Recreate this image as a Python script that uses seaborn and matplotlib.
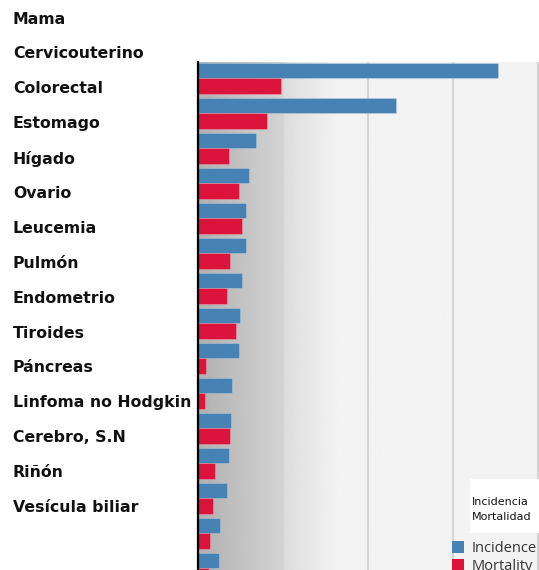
import numpy as np
import pandas as pd
import matplotlib
matplotlib.use("Agg")
import matplotlib.pyplot as plt
from matplotlib.patches import Patch, Rectangle
import seaborn as sns

# Cancer sites and estimated cases / deaths
categories = ["Mama", "Cervicouterino", "Colorectal", "Estomago", "Hígado",
              "Ovario", "Leucemia", "Pulmón", "Endometrio", "Tiroides",
              "Páncreas", "Linfoma no Hodgkin", "Cerebro, S.N", "Riñón",
              "Vesícula biliar"]
incidence = [35300, 23300, 6820, 6040, 5680, 5680, 5210, 4980, 4860, 3960,
             3850, 3650, 3380, 2590, 2470]
mortality = [9760, 8080, 3610, 4790, 5210, 3760, 3410, 4440, 980, 860,
             3760, 2000, 1800, 1450, 1300]
series_names = ["Incidence", "Mortality"]
box_labels = ["Incidencia", "Mortalidad"]

colors = {"Incidence": "#4682B4", "Mortality": "#DC143C"}

df = pd.DataFrame({
    "site": categories * 2,
    "series": [series_names[0]] * len(categories) + [series_names[1]] * len(categories),
    "value": incidence + mortality,
})

W, H = 539, 570
fig = plt.figure(figsize=(W / 100, H / 100), dpi=100)
ax = fig.add_axes([198 / W, 0, (W - 198) / W, 1 - 62 / H])

# shaded plot background: dark at the axis, fading to light grey
xs = np.linspace(0, 1, 400)
shade = np.where(xs < 0.25, 0.69 + (0.83 - 0.69) * xs / 0.25,
                 np.where(xs < 0.42, 0.865 + (0.957 - 0.865) * (xs - 0.25) / 0.17, 0.957))
ax.imshow(shade[np.newaxis, :], extent=[0, 1, 0, 1], transform=ax.transAxes,
          aspect="auto", cmap="gray", vmin=0, vmax=1, zorder=0, interpolation="bilinear")

sns.barplot(data=df, y="site", x="value", hue="series", palette=colors,
            orient="h", width=0.9, ax=ax, legend=False, zorder=2,
            saturation=1, edgecolor="#ffffff40", linewidth=0.6)

ax.set_xlim(0, 40120)
ax.set_ylim(14.043, -0.471)
ax.set_xticks([10000, 20000, 30000, 40000])
ax.xaxis.grid(True, color="#d4d4d4", lw=1.5, zorder=1)
ax.set_axisbelow(True)
ax.tick_params(length=0, labelbottom=False, labelleft=False)
ax.set_xlabel("")
ax.set_ylabel("")
for s in ["top", "right", "bottom"]:
    ax.spines[s].set_visible(False)
ax.spines["left"].set_color("black")
ax.spines["left"].set_linewidth(1.6)

# category labels in a column on the left
for i, name in enumerate(categories):
    fig.text(13 / W, 1 - (19 + 34.9 * i) / H, name, ha="left", va="center",
             fontsize=11.3, fontweight="bold", family="DejaVu Sans", color="#111111")

# white caption box
fig.add_artist(Rectangle((470 / W, 1 - 533 / H), (W - 470) / W, 54 / H,
                         transform=fig.transFigure, facecolor="white",
                         edgecolor="none", zorder=3))
for j, lab in enumerate(box_labels):
    fig.text(472 / W, 1 - (502 + 14.5 * j) / H, lab, ha="left", va="center",
             fontsize=8, family="DejaVu Sans", color="#111111", zorder=4)

handles = [Patch(facecolor=colors[n], edgecolor="none") for n in series_names]
fig.legend(handles, series_names, loc="upper left",
           bbox_to_anchor=(452 / W, 1 - 541 / H), frameon=False,
           borderpad=0, borderaxespad=0, handlelength=0.8, handleheight=0.8,
           handletextpad=0.55, labelspacing=0.2,
           prop={"family": "Open Sans", "size": 10.5}, labelcolor="#333333")

fig.savefig("out.png", dpi=100)
